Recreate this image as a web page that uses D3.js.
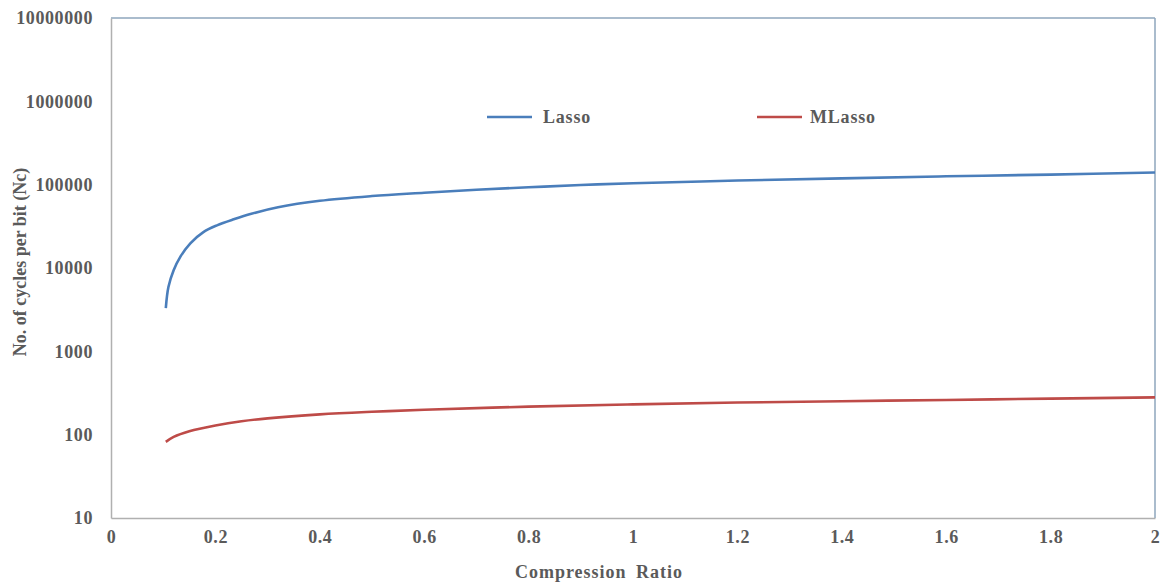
<!DOCTYPE html>
<html>
<head>
<meta charset="utf-8">
<script src="https://cdn.jsdelivr.net/npm/d3@7"></script>
<style>
	html, body { margin: 0; padding: 0; background: #fff; }
	svg text { font-family: "Liberation Serif", "Times New Roman", serif; font-weight: bold; }
</style>
</head>
<body>
<svg id="chart"></svg>
<script>
// compression ratio (x) and cycles per bit (y)
const lassoX = [0.105, 0.11, 0.12, 0.133, 0.152, 0.177, 0.203, 0.235, 0.267, 0.32, 0.4, 0.5, 0.6, 0.7, 0.8, 0.9, 1.0, 1.2, 1.4, 1.6, 1.8, 2.0];
const lassoY = [3300, 5900, 9400, 13700, 19800, 27000, 32500, 38400, 44400, 53500, 64000, 73000, 80000, 87000, 93000, 99000, 104000, 112000, 119000, 126000, 132000, 140000];

const mlassoX = [0.105, 0.12, 0.15, 0.2, 0.25, 0.3, 0.4, 0.5, 0.6, 0.8, 1.0, 1.2, 1.4, 1.6, 1.8, 2.0];
const mlassoY = [82, 94, 110, 129, 145, 157, 175, 188, 199, 217, 231, 243, 252, 261, 271, 280];

const xTicks = [0, 0.2, 0.4, 0.6, 0.8, 1, 1.2, 1.4, 1.6, 1.8, 2];
const yTicks = [10, 100, 1000, 10000, 100000, 1000000, 10000000];

const series = [
	{ name: "Lasso", x: lassoX, y: lassoY, color: "#4a7ebb" },
	{ name: "MLasso", x: mlassoX, y: mlassoY, color: "#be4b48" }
];

const width = 1161;
const height = 582;
const plotLeft = 111, plotRight = 1155, plotTop = 18, plotBottom = 518;
const textColor = "#5a5a5a";

const svg = d3.select("#chart")
	.attr("width", width)
	.attr("height", height);

const x = d3.scaleLinear([0, 2], [plotLeft, plotRight]);
const y = d3.scaleLog([10, 10000000], [plotBottom, plotTop]);

// frame: left & bottom gray, top & right bluish
svg.append("line")
	.attr("x1", plotLeft).attr("x2", plotRight).attr("y1", plotTop).attr("y2", plotTop)
	.attr("stroke", "#8ea6bd").attr("stroke-width", 1.5);
svg.append("line")
	.attr("x1", plotRight).attr("x2", plotRight).attr("y1", plotTop).attr("y2", plotBottom)
	.attr("stroke", "#8ea6bd").attr("stroke-width", 1.5);

function styleTicks(g) {
	g.selectAll(".tick text")
		.attr("fill", textColor).attr("font-size", 18)
		.style("letter-spacing", "0.6px")
		.style("font-family", "'Liberation Serif', serif").style("font-weight", "bold");
}

const xAxis = d3.axisBottom(x).tickValues(xTicks).tickSize(0).tickPadding(12)
	.tickFormat(d => d3.format("~g")(d));
svg.append("g")
	.attr("transform", `translate(0, ${plotBottom})`)
	.call(xAxis)
	.call(g => g.select(".domain").attr("stroke", "#b0b0b0").attr("stroke-width", 1.5))
	.call(styleTicks);

const yAxis = d3.axisLeft(y).tickValues(yTicks).tickSize(0).tickPadding(18)
	.tickFormat(d => String(d));
svg.append("g")
	.attr("transform", `translate(${plotLeft}, 0)`)
	.call(yAxis)
	.call(g => g.select(".domain").attr("stroke", "#b0b0b0").attr("stroke-width", 1.5))
	.call(styleTicks);

// lines
const line = d3.line().curve(d3.curveCatmullRom.alpha(0.5));
for (const s of series) {
	const pts = s.x.map((v, i) => [x(v), y(s.y[i])]);
	svg.append("path")
		.attr("d", line(pts))
		.attr("fill", "none")
		.attr("stroke", s.color)
		.attr("stroke-width", 2.6);
}

// legend
const legendPos = [487, 757];
series.forEach((s, i) => {
	const g = svg.append("g").attr("transform", `translate(${legendPos[i]}, 117)`);
	g.append("line").attr("x1", 0).attr("x2", 45)
		.attr("stroke", s.color).attr("stroke-width", 2.6);
	g.append("text").attr("x", i === 0 ? 56 : 53).attr("y", 6)
		.attr("fill", textColor).attr("font-size", 18)
		.style("letter-spacing", "0.8px")
		.text(s.name);
});

// axis titles
svg.append("text")
	.attr("x", 599).attr("y", 578)
	.attr("text-anchor", "middle")
	.attr("fill", textColor).attr("font-size", 18)
	.style("letter-spacing", "1px")
	.style("word-spacing", "4px")
	.text("Compression Ratio");

svg.append("text")
	.attr("transform", `translate(26, ${(plotTop + plotBottom) / 2 - 6}) rotate(-90)`)
	.attr("text-anchor", "middle")
	.attr("fill", textColor).attr("font-size", 18)
	.text("No. of cycles per bit (Nc)");
</script>
</body>
</html>
